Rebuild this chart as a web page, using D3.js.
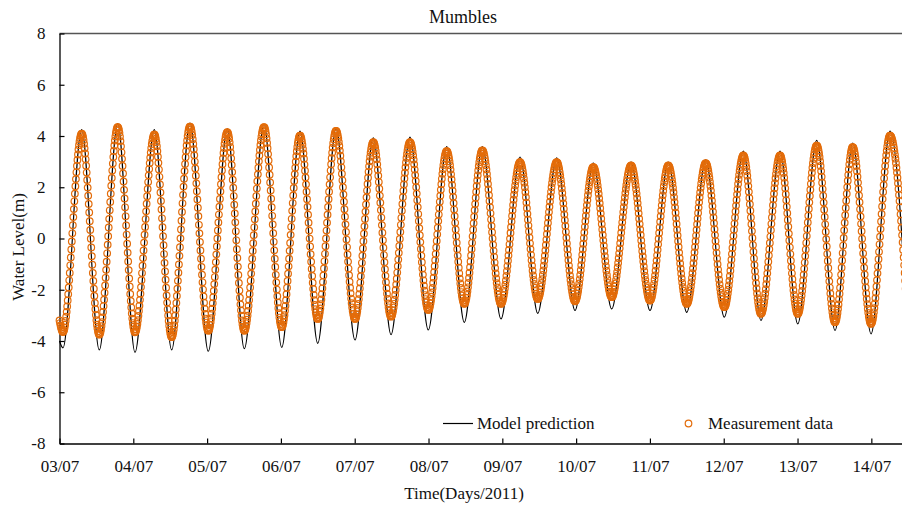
<!DOCTYPE html>
<html>
<head>
<meta charset="utf-8">
<script src="https://cdn.jsdelivr.net/npm/d3@7"></script>
<style>
  body { margin: 0; background: #fff; }
  svg { display: block; }
  svg text { font-family: "Liberation Serif", "Times New Roman", serif; fill: #111; }
</style>
</head>
<body>
<svg id="chart" width="902" height="506"></svg>
<script>
// turning points (start, then low / high water)
// day offset from 03/07/2011 00:00
const turnDay = [
  0.000, 0.047, 0.301, 0.539, 0.789, 1.023, 1.285, 1.520, 1.768, 2.016,
  2.274, 2.504, 2.771, 3.011, 3.259, 3.499, 3.747, 4.004, 4.252, 4.492,
  4.749, 4.997, 5.247, 5.485, 5.729, 5.982, 6.240, 6.480, 6.737, 6.985,
  7.233, 7.482, 7.744, 8.001, 8.249, 8.499, 8.756, 9.008, 9.266, 9.505,
  9.763, 10.003, 10.260, 10.508, 10.748, 10.996, 11.253, 11.497
];
// measured water level at those points (m)
const measuredLevel = [
  -3.2, -3.65, 4.09, -3.75, 4.35, -3.66, 4.06, -3.85, 4.37, -3.6,
  4.15, -3.6, 4.35, -3.46, 4.02, -3.14, 4.2, -3.14, 3.76, -3.05,
  3.76, -2.79, 3.41, -2.55, 3.44, -2.55, 2.98, -2.36, 2.98, -2.45,
  2.79, -2.29, 2.85, -2.42, 2.85, -2.55, 2.94, -2.68, 3.24, -2.94,
  3.24, -2.94, 3.63, -3.27, 3.57, -3.33, 4.02, -3.4
];
// model prediction at the same points (m)
const modelLevel = [
  -4.0, -4.27, 4.25, -4.35, 4.48, -4.44, 4.25, -4.35, 4.5, -4.4,
  4.28, -4.3, 4.45, -4.25, 4.19, -4.09, 4.3, -3.96, 3.93, -3.75,
  3.96, -3.57, 3.59, -3.27, 3.59, -3.14, 3.18, -2.92, 3.15, -2.81,
  2.94, -2.75, 2.98, -2.81, 2.98, -2.88, 3.07, -3.07, 3.41, -3.2,
  3.41, -3.33, 3.83, -3.59, 3.72, -3.72, 4.19, -3.9
];
const yTicks = [-8, -6, -4, -2, 0, 2, 4, 6, 8];
const dayLabels = ["03/07", "04/07", "05/07", "06/07", "07/07", "08/07",
  "09/07", "10/07", "11/07", "12/07", "13/07", "14/07"];
const sampleMinutes = 10; // tide gauge interval

const svg = d3.select("#chart");
const orange = "#E36C0A";

const x = d3.scaleLinear().domain([0, 11.41]).range([59.5, 901.6]);
const y = d3.scaleLinear().domain([-8, 8]).range([443.5, 33.5]);

const measured = turnDay.map((d, i) => ({ t: d, v: measuredLevel[i] }));
const model = turnDay.map((d, i) => ({ t: d, v: modelLevel[i] }));

const line = d3.line()
  .x(d => x(d.t))
  .y(d => y(d.v))
  .curve(d3.curveMonotoneX);

// top frame line
svg.append("line")
  .attr("x1", 59.5).attr("x2", 902)
  .attr("y1", y(8)).attr("y2", y(8))
  .attr("stroke", "#555").attr("stroke-width", 1.3);

// axes (ticks point inwards, plain hyphen for negatives)
const yAxis = svg.append("g")
  .attr("transform", "translate(59.5,0)")
  .call(d3.axisLeft(y).tickValues(yTicks).tickFormat(d => String(d))
    .tickSize(-5).tickSizeOuter(0).tickPadding(14));

const xAxis = svg.append("g")
  .attr("transform", `translate(0,${y(-8)})`)
  .call(d3.axisBottom(x).tickValues(d3.range(dayLabels.length))
    .tickFormat(i => dayLabels[i]).tickSize(-5).tickSizeOuter(0).tickPadding(16));

[yAxis, xAxis].forEach(a => {
  a.attr("font-family", null).attr("font-size", null);
  a.select(".domain").attr("stroke", "#000").attr("stroke-width", 1.3);
  a.selectAll(".tick line").attr("stroke", "#000").attr("stroke-width", 1.2);
  a.selectAll("text").attr("font-size", 17).attr("fill", "#111");
});

// model line
svg.append("path")
  .attr("d", line(model))
  .attr("fill", "none")
  .attr("stroke", "#000")
  .attr("stroke-width", 1.2);

// measurement: record the bezier pieces d3 builds through the read turning
// points, then put a circle on that curve at every gauge time step
const pieces = [];
let last = null;
const recorder = {
  moveTo(px, py) { last = [px, py]; },
  lineTo(px, py) { pieces.push([last, last, [px, py], [px, py]]); last = [px, py]; },
  bezierCurveTo(ax, ay, bx, by, px, py) {
    pieces.push([last, [ax, ay], [bx, by], [px, py]]);
    last = [px, py];
  },
  closePath() {}
};
d3.line().x(d => x(d.t)).y(d => y(d.v)).curve(d3.curveMonotoneX).context(recorder)(measured);

function bez(p, s, k) {
  const u = 1 - s;
  return u * u * u * p[0][k] + 3 * u * u * s * p[1][k] + 3 * u * s * s * p[2][k] + s * s * s * p[3][k];
}

const samples = [];
const lastDay = turnDay[turnDay.length - 1];
let seg = 0;
for (let k = 0; k * sampleMinutes / 1440 <= lastDay; k++) {
  const tx = x(k * sampleMinutes / 1440);
  if (tx > 906) break;
  while (seg < pieces.length - 1 && pieces[seg][3][0] < tx) seg++;
  const p = pieces[seg];
  let lo = 0, hi = 1;
  for (let i = 0; i < 30; i++) {
    const mid = (lo + hi) / 2;
    if (bez(p, mid, 0) < tx) lo = mid; else hi = mid;
  }
  samples.push({ x: tx, y: bez(p, lo, 1) });
}

svg.append("g")
  .selectAll("circle")
  .data(samples)
  .join("circle")
  .attr("cx", d => d.x)
  .attr("cy", d => d.y)
  .attr("r", 3.3)
  .attr("fill", "none")
  .attr("stroke", orange)
  .attr("stroke-width", 1.2);

// titles
svg.append("text")
  .attr("x", 463).attr("y", 23)
  .attr("text-anchor", "middle")
  .attr("font-size", 18)
  .text("Mumbles");

svg.append("text")
  .attr("x", 464).attr("y", 499)
  .attr("text-anchor", "middle")
  .attr("font-size", 17)
  .text("Time(Days/2011)");

svg.append("text")
  .attr("transform", "translate(24,247) rotate(-90)")
  .attr("text-anchor", "middle")
  .attr("font-size", 17)
  .text("Water Level(m)");

// legend
const legend = svg.append("g");
legend.append("line")
  .attr("x1", 443).attr("x2", 473)
  .attr("y1", 423.5).attr("y2", 423.5)
  .attr("stroke", "#000").attr("stroke-width", 1.2);
legend.append("text")
  .attr("x", 477).attr("y", 429)
  .attr("font-size", 17)
  .text("Model prediction");
legend.append("circle")
  .attr("cx", 688.5).attr("cy", 423.5).attr("r", 3.3)
  .attr("fill", "none").attr("stroke", orange).attr("stroke-width", 1.2);
legend.append("text")
  .attr("x", 708).attr("y", 429)
  .attr("font-size", 17)
  .text("Measurement data");
</script>
</body>
</html>
